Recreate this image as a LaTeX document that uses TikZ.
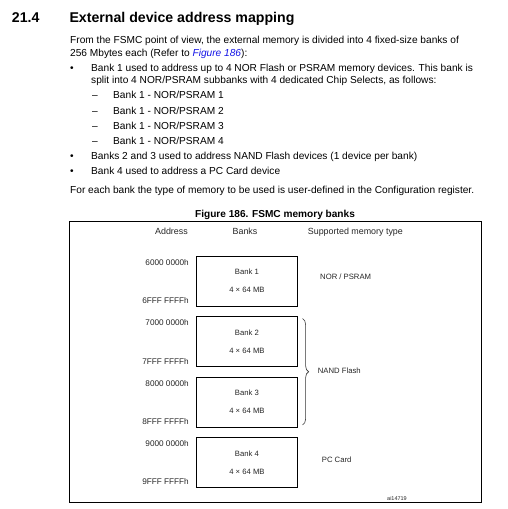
\documentclass[tikz,border=0pt]{standalone}
\usepackage{fontspec}
\setmainfont{Liberation Sans}
\usepackage{xcolor}
\usetikzlibrary{positioning, decorations.pathreplacing}
\definecolor{linkblue}{RGB}{20,20,230}

\begin{document}
\begin{tikzpicture}[
    x=1pt, y=-1pt,
    node distance=9.5pt,
    heading/.style={anchor=base west, inner sep=0pt, font=\fontsize{14.15}{16}\selectfont\bfseries},
    body/.style={anchor=base west, inner sep=0pt, font=\fontsize{10.15}{12}\selectfont},
    dot/.style={body, anchor=base},
    caption/.style={anchor=base, inner sep=0pt, font=\fontsize{10.1}{12}\selectfont\bfseries},
    lbl/.style={inner sep=0pt, font=\fontsize{7.7}{9}\selectfont, text=black!85},
    colhead/.style={lbl, font=\fontsize{8.9}{10}\selectfont},
    addr/.style={lbl, anchor=base east, font=\fontsize{8.2}{10}\selectfont},
    memtype/.style={lbl, anchor=base west},
    bank/.style={rectangle, draw, line width=0.9pt, minimum width=100.4pt, minimum height=50pt, inner sep=0pt, align=center, font=\fontsize{7.7}{9}\selectfont, text=black!85},
    frame/.style={rectangle, draw, line width=0.9pt, minimum width=411.4pt, minimum height=281.3pt, anchor=north west, inner sep=0pt},
    brace/.style={decorate, decoration={brace, amplitude=6pt}, line width=0.6pt, black!80}
]
\useasboundingbox (0,0) rectangle (507,509);

\node[heading] (secnum) at (11.7,22.7) {21.4};
\node[heading] (sectitle) at (69.3,22.7) {External device address mapping};

\node[body] (intro1) at (70,43.7) {From the FSMC point of view, the external memory is divided into 4 fixed-size banks of};
\node[body] (intro2) at (70,56) {256 Mbytes each (Refer to \textcolor{linkblue}{\textit{Figure 186}}):};

\node[dot] (dot1) at (72,71.3) {\textbullet};
\node[body] (item1a) at (91,71.3) {Bank 1 used to address up to 4 NOR Flash or PSRAM memory devices. This bank is};
\node[body] (item1b) at (91,83.5) {split into 4 NOR/PSRAM subbanks with 4 dedicated Chip Selects, as follows:};

\node[body] (dash1) at (92,98) {–};
\node[body] (sub1) at (113,98) {Bank 1 - NOR/PSRAM 1};
\node[body] (dash2) at (92,114) {–};
\node[body] (sub2) at (113,114) {Bank 1 - NOR/PSRAM 2};
\node[body] (dash3) at (92,129) {–};
\node[body] (sub3) at (113,129) {Bank 1 - NOR/PSRAM 3};
\node[body] (dash4) at (92,144) {–};
\node[body] (sub4) at (113,144) {Bank 1 - NOR/PSRAM 4};

\node[dot] (dot2) at (72,159) {\textbullet};
\node[body] (item2) at (91,159) {Banks 2 and 3 used to address NAND Flash devices (1 device per bank)};
\node[dot] (dot3) at (72,174.5) {\textbullet};
\node[body] (item3) at (91,174.5) {Bank 4 used to address a PC Card device};

\node[body] (outro) at (70,193) {For each bank the type of memory to be used is user-defined in the Configuration register.};

\node[caption] (figcap) at (275,217) {Figure 186. FSMC memory banks};
\node[frame] (fig) at (69.3,220.7) {};

\node[colhead, anchor=base east] (haddr) at (188,234.7) {Address};
\node[colhead, anchor=base] (hbanks) at (245,234.7) {Banks};
\node[colhead, anchor=base west] (htype) at (307.7,234.7) {Supported memory type};

\node[bank, anchor=north west] (bank1) at (196.3,255.7) {Bank 1\\[9pt]4 × 64 MB};
\node[bank, below=of bank1] (bank2) {Bank 2\\[9pt]4 × 64 MB};
\node[bank, below=of bank2] (bank3) {Bank 3\\[9pt]4 × 64 MB};
\node[bank, below=of bank3] (bank4) {Bank 4\\[9pt]4 × 64 MB};

\node[addr] (a1s) at ([xshift=-7.3pt,yshift=-9.5pt]bank1.north west) {6000 0000h};
\node[addr] (a1e) at ([xshift=-7.3pt,yshift=3pt]bank1.south west) {6FFF FFFFh};
\node[addr] (a2s) at ([xshift=-7.3pt,yshift=-9.5pt]bank2.north west) {7000 0000h};
\node[addr] (a2e) at ([xshift=-7.3pt,yshift=3pt]bank2.south west) {7FFF FFFFh};
\node[addr] (a3s) at ([xshift=-7.3pt,yshift=-9.5pt]bank3.north west) {8000 0000h};
\node[addr] (a3e) at ([xshift=-7.3pt,yshift=3pt]bank3.south west) {8FFF FFFFh};
\node[addr] (a4s) at ([xshift=-7.3pt,yshift=-9.5pt]bank4.north west) {9000 0000h};
\node[addr] (a4e) at ([xshift=-7.3pt,yshift=3pt]bank4.south west) {9FFF FFFFh};

\draw[brace] ([xshift=5pt,yshift=-2.5pt]bank2.north east) -- ([xshift=5pt,yshift=2.5pt]bank3.south east);

\node[memtype] (nor) at (320,279.3) {NOR / PSRAM};
\node[memtype] (nand) at (317.7,373) {NAND Flash};
\node[memtype] (pccard) at (321.7,462.7) {PC Card};

\node[lbl, anchor=base west, font=\fontsize{5.5}{6}\selectfont] (figid) at (387,500.7) {ai14719};
\end{tikzpicture}
\end{document}
